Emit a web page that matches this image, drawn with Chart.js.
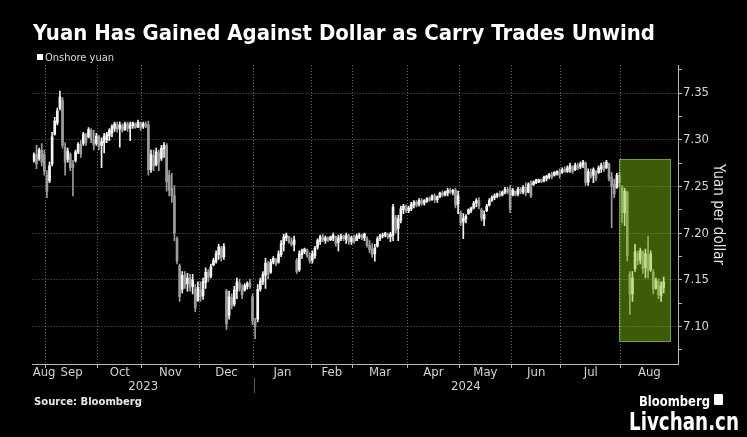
<!DOCTYPE html>
<html>
<head>
<meta charset="utf-8">
<script src="https://cdn.jsdelivr.net/npm/chart.js@4.4.1/dist/chart.umd.min.js"></script>
<style>
  html, body { margin: 0; padding: 0; background: #000; }
  #wrap { position: relative; width: 747px; height: 437px; background: #000; overflow: hidden; }
  #chart { position: absolute; left: 0; top: 0; }
  .txt { position: absolute; white-space: nowrap; color: #fff; transform-origin: 0 0; line-height: 1; }
  #title { left: 33px; top: 20px; font: bold 22px 'DejaVu Sans', sans-serif; }
  #legend { left: 37px; top: 51px; font: 11px 'DejaVu Sans Condensed', 'DejaVu Sans', sans-serif; color: #dcdcdc; }
  #legend .sw { display: inline-block; width: 6px; height: 6px; background: #fff; margin-right: 2px; vertical-align: 1px; }
  #source { left: 34px; top: 395px; font: bold 11px 'DejaVu Sans', sans-serif; color: #e8e8e8; }
  #brand { left: 639px; top: 393px; font: bold 14px 'DejaVu Sans Condensed', 'DejaVu Sans', sans-serif; }
  #logo { position: absolute; left: 714px; top: 394px; width: 9px; height: 11px; background: #fff; border-radius: 1px; }
  #watermark { left: 629px; top: 408px; font: bold 24px 'DejaVu Sans Condensed', 'DejaVu Sans', sans-serif; }
</style>
</head>
<body>
<div id="wrap">
  <canvas id="chart" width="747" height="437"></canvas>
  <div id="title" class="txt">Yuan Has Gained Against Dollar as Carry Trades Unwind</div>
  <div id="legend" class="txt"><span class="sw"></span>Onshore yuan</div>
  <div id="source" class="txt">Source: Bloomberg</div>
  <div id="brand" class="txt">Bloomberg</div>
  <div id="logo"></div>
  <div id="watermark" class="txt">Livchan.cn</div>
</div>
<script>
// Daily USD/CNY (onshore) bars, late Aug 2023 - Aug 2024, one entry per trading day
const opens = [
  7.278, 7.284, 7.280, 7.289, 7.284, // Aug
  7.262, 7.256, 7.274, 7.306, 7.318, 7.334, 7.342, 7.292, 7.279, 7.284, 7.274, 7.278, 7.287, 7.295, 7.296, 7.305, 7.303, 7.310, 7.300, 7.296, // Sep
  7.303, 7.294, 7.297, 7.300, 7.304, 7.307, 7.312, 7.316, 7.312, 7.315, 7.311, 7.317, 7.312, 7.315, 7.317, 7.314, 7.318, // Oct
  7.314, 7.317, 7.316, 7.268, 7.283, 7.273, 7.286, 7.280, 7.290, 7.294, 7.262, 7.248, 7.240, 7.194, 7.165, 7.140, 7.155, 7.146, 7.152, 7.143, 7.140, 7.128, // Nov
  7.140, 7.133, 7.147, 7.158, 7.154, 7.166, 7.170, 7.177, 7.184, 7.175, 7.138, 7.112, 7.131, 7.124, 7.138, 7.147, 7.140, 7.139, 7.143, 7.147, 7.132, // Dec
  7.106, 7.108, 7.140, 7.148, 7.155, 7.167, 7.158, 7.169, 7.172, 7.169, 7.177, 7.188, 7.195, 7.196, 7.191, 7.188, 7.171, 7.161, 7.177, 7.180, 7.182, 7.175, // Jan
  7.171, 7.176, 7.185, 7.191, 7.196, 7.192, 7.195, 7.193, 7.195, 7.196, 7.190, 7.194, 7.197, 7.193, 7.197, 7.191, // Feb
  7.194, 7.192, 7.196, 7.198, 7.195, 7.194, 7.187, 7.183, 7.178, 7.186, 7.194, 7.197, 7.198, 7.199, 7.196, 7.198, 7.217, 7.205, 7.214, 7.225, 7.228, // Mar
  7.224, 7.226, 7.230, 7.233, 7.231, 7.235, 7.232, 7.234, 7.237, 7.236, 7.240, 7.236, 7.239, 7.243, 7.241, 7.243, 7.246, 7.244, 7.246, 7.231, // Apr
  7.222, 7.212, 7.215, 7.221, 7.224, 7.227, 7.232, 7.235, 7.225, 7.215, 7.224, 7.230, 7.235, 7.238, 7.240, 7.242, 7.241, 7.244, 7.247, 7.248, // May
  7.241, 7.245, 7.242, 7.247, 7.244, 7.249, 7.244, 7.254, 7.252, 7.254, 7.255, 7.257, 7.256, 7.259, 7.260, 7.263, 7.262, 7.264, 7.266, // Jun
  7.265, 7.268, 7.266, 7.269, 7.271, 7.268, 7.272, 7.271, 7.273, 7.275, 7.255, 7.265, 7.262, 7.266, 7.265, 7.269, 7.272, 7.270, 7.274, 7.260, 7.252, 7.249, 7.262, // Jul
  7.250, 7.222, 7.244, 7.156, 7.135, 7.162, 7.178, 7.171, 7.179, 7.163, 7.176, 7.161, 7.158, 7.141, 7.148, 7.133, 7.142 // Aug
];
const highs = [
  7.286, 7.294, 7.291, 7.296, 7.289,
  7.267, 7.276, 7.308, 7.324, 7.334, 7.352, 7.345, 7.297, 7.291, 7.286, 7.278, 7.289, 7.297, 7.299, 7.308, 7.307, 7.313, 7.312, 7.310, 7.307,
  7.305, 7.302, 7.307, 7.308, 7.312, 7.316, 7.319, 7.319, 7.319, 7.317, 7.319, 7.319, 7.319, 7.319, 7.318, 7.321, 7.319,
  7.319, 7.319, 7.320, 7.289, 7.289, 7.291, 7.289, 7.294, 7.297, 7.296, 7.267, 7.264, 7.251, 7.196, 7.167, 7.159, 7.159, 7.157, 7.156, 7.156, 7.145, 7.148,
  7.148, 7.152, 7.163, 7.161, 7.167, 7.173, 7.181, 7.188, 7.186, 7.189, 7.140, 7.138, 7.135, 7.143, 7.152, 7.151, 7.145, 7.146, 7.148, 7.151, 7.135,
  7.109, 7.145, 7.152, 7.159, 7.173, 7.170, 7.172, 7.175, 7.173, 7.181, 7.192, 7.199, 7.200, 7.197, 7.195, 7.197, 7.173, 7.181, 7.183, 7.184, 7.183, 7.179,
  7.181, 7.186, 7.194, 7.198, 7.199, 7.197, 7.196, 7.197, 7.200, 7.197, 7.198, 7.199, 7.198, 7.200, 7.199, 7.197,
  7.198, 7.199, 7.200, 7.199, 7.200, 7.196, 7.192, 7.189, 7.188, 7.196, 7.199, 7.200, 7.201, 7.200, 7.201, 7.231, 7.219, 7.219, 7.229, 7.231, 7.230,
  7.229, 7.233, 7.235, 7.235, 7.237, 7.237, 7.236, 7.238, 7.239, 7.241, 7.242, 7.240, 7.244, 7.245, 7.245, 7.248, 7.248, 7.247, 7.248, 7.245,
  7.224, 7.221, 7.220, 7.226, 7.228, 7.234, 7.237, 7.238, 7.227, 7.224, 7.231, 7.237, 7.240, 7.242, 7.243, 7.245, 7.245, 7.249, 7.249, 7.251,
  7.248, 7.245, 7.249, 7.249, 7.251, 7.254, 7.254, 7.256, 7.256, 7.258, 7.258, 7.258, 7.261, 7.262, 7.264, 7.265, 7.266, 7.267, 7.269,
  7.270, 7.271, 7.272, 7.275, 7.272, 7.275, 7.275, 7.276, 7.278, 7.276, 7.269, 7.269, 7.270, 7.267, 7.272, 7.275, 7.276, 7.278, 7.275, 7.265, 7.258, 7.264, 7.265,
  7.251, 7.248, 7.245, 7.159, 7.159, 7.188, 7.181, 7.184, 7.181, 7.183, 7.197, 7.181, 7.161, 7.152, 7.151, 7.148, 7.153
];
const lows = [
  7.276, 7.269, 7.278, 7.272, 7.262,
  7.238, 7.254, 7.272, 7.305, 7.316, 7.332, 7.291, 7.262, 7.276, 7.267, 7.240, 7.276, 7.285, 7.281, 7.294, 7.294, 7.302, 7.297, 7.289, 7.294,
  7.289, 7.270, 7.286, 7.297, 7.299, 7.303, 7.309, 7.308, 7.292, 7.308, 7.310, 7.309, 7.299, 7.312, 7.312, 7.313, 7.310,
  7.312, 7.313, 7.262, 7.265, 7.267, 7.272, 7.267, 7.278, 7.281, 7.245, 7.240, 7.233, 7.192, 7.167, 7.127, 7.136, 7.141, 7.138, 7.138, 7.135, 7.116, 7.127,
  7.127, 7.129, 7.141, 7.148, 7.152, 7.165, 7.168, 7.172, 7.170, 7.172, 7.097, 7.108, 7.119, 7.122, 7.130, 7.138, 7.130, 7.138, 7.140, 7.141, 7.102,
  7.087, 7.105, 7.138, 7.145, 7.141, 7.151, 7.157, 7.167, 7.165, 7.168, 7.175, 7.181, 7.192, 7.189, 7.186, 7.181, 7.157, 7.159, 7.173, 7.178, 7.174, 7.168,
  7.168, 7.173, 7.183, 7.188, 7.191, 7.189, 7.191, 7.192, 7.192, 7.186, 7.181, 7.192, 7.192, 7.189, 7.188, 7.188,
  7.189, 7.192, 7.194, 7.193, 7.192, 7.185, 7.179, 7.174, 7.170, 7.185, 7.192, 7.195, 7.196, 7.194, 7.191, 7.192, 7.200, 7.192, 7.211, 7.221, 7.222,
  7.222, 7.224, 7.227, 7.228, 7.229, 7.230, 7.230, 7.233, 7.234, 7.235, 7.233, 7.233, 7.238, 7.239, 7.240, 7.240, 7.242, 7.241, 7.227, 7.221,
  7.208, 7.194, 7.211, 7.220, 7.222, 7.226, 7.228, 7.226, 7.213, 7.208, 7.223, 7.229, 7.234, 7.236, 7.238, 7.239, 7.240, 7.242, 7.242, 7.222,
  7.240, 7.240, 7.240, 7.242, 7.242, 7.240, 7.243, 7.238, 7.251, 7.253, 7.254, 7.254, 7.255, 7.256, 7.258, 7.258, 7.261, 7.262, 7.259,
  7.264, 7.265, 7.265, 7.265, 7.264, 7.267, 7.268, 7.269, 7.270, 7.251, 7.251, 7.259, 7.254, 7.256, 7.264, 7.265, 7.266, 7.269, 7.256, 7.206, 7.238, 7.248, 7.250,
  7.211, 7.208, 7.170, 7.113, 7.127, 7.159, 7.166, 7.167, 7.157, 7.152, 7.152, 7.159, 7.135, 7.140, 7.130, 7.127, 7.136
];
const closes = [
  7.284, 7.274, 7.289, 7.276, 7.266,
  7.245, 7.272, 7.303, 7.320, 7.331, 7.346, 7.294, 7.276, 7.288, 7.270, 7.270, 7.287, 7.295, 7.285, 7.306, 7.297, 7.311, 7.300, 7.295, 7.304,
  7.293, 7.298, 7.304, 7.306, 7.310, 7.314, 7.317, 7.311, 7.316, 7.310, 7.317, 7.312, 7.316, 7.318, 7.313, 7.319, 7.313,
  7.317, 7.315, 7.268, 7.284, 7.272, 7.287, 7.276, 7.291, 7.294, 7.255, 7.246, 7.240, 7.200, 7.170, 7.132, 7.155, 7.145, 7.152, 7.142, 7.150, 7.120, 7.142,
  7.132, 7.148, 7.158, 7.152, 7.164, 7.171, 7.178, 7.185, 7.174, 7.186, 7.103, 7.132, 7.122, 7.139, 7.148, 7.141, 7.134, 7.144, 7.146, 7.143, 7.106,
  7.100, 7.140, 7.149, 7.156, 7.168, 7.156, 7.169, 7.173, 7.167, 7.178, 7.189, 7.196, 7.198, 7.191, 7.188, 7.193, 7.159, 7.178, 7.181, 7.183, 7.176, 7.170,
  7.178, 7.184, 7.192, 7.196, 7.193, 7.195, 7.192, 7.196, 7.198, 7.189, 7.195, 7.197, 7.194, 7.198, 7.191, 7.195,
  7.191, 7.197, 7.198, 7.195, 7.199, 7.187, 7.182, 7.177, 7.184, 7.194, 7.197, 7.198, 7.200, 7.196, 7.199, 7.228, 7.203, 7.215, 7.226, 7.229, 7.224,
  7.227, 7.231, 7.233, 7.230, 7.235, 7.232, 7.235, 7.237, 7.235, 7.240, 7.236, 7.239, 7.243, 7.241, 7.244, 7.246, 7.244, 7.246, 7.230, 7.240,
  7.211, 7.216, 7.218, 7.225, 7.227, 7.232, 7.235, 7.229, 7.216, 7.220, 7.229, 7.235, 7.238, 7.240, 7.242, 7.240, 7.244, 7.247, 7.244, 7.226,
  7.246, 7.241, 7.247, 7.244, 7.249, 7.243, 7.252, 7.240, 7.255, 7.257, 7.257, 7.255, 7.260, 7.261, 7.263, 7.260, 7.265, 7.266, 7.262,
  7.268, 7.266, 7.270, 7.272, 7.266, 7.273, 7.270, 7.274, 7.276, 7.254, 7.266, 7.261, 7.268, 7.259, 7.270, 7.273, 7.268, 7.276, 7.258, 7.250, 7.242, 7.262, 7.254,
  7.222, 7.245, 7.176, 7.135, 7.152, 7.180, 7.170, 7.181, 7.162, 7.178, 7.160, 7.178, 7.140, 7.149, 7.134, 7.143, 7.148
];

// x axis: trading-day slots per month (axis runs to the end of Aug 2024)
const monthLabels = ['Aug', 'Sep', 'Oct', 'Nov', 'Dec', 'Jan', 'Feb', 'Mar', 'Apr', 'May', 'Jun', 'Jul', 'Aug'];
const monthDays = [5, 20, 17, 22, 21, 22, 16, 21, 20, 20, 19, 23, 22];
const yearLabels = ['2023', '2024'];
const yearMonths = [5, 8];

// y axis
const yMin = 7.06, yMax = 7.38;
const yTicks = [7.075, 7.10, 7.125, 7.15, 7.175, 7.20, 7.225, 7.25, 7.275, 7.30, 7.325, 7.35, 7.375];

// highlighted window (late Jul - Aug 2024)
const boxFrom = 224.9, boxTo = 245.0, boxLow = 7.084, boxHigh = 7.279;

const FONT = "'DejaVu Sans Condensed', 'DejaVu Sans', sans-serif";
const GRID = 'rgba(255,255,255,0.38)';
const AXIS = '#b8b8b8';

// month boundaries / centres in slot units
const nSlots = monthDays.reduce((a, b) => a + b, 0);
const monthBounds = [];
const monthCenters = [];
let acc = -0.5;
monthDays.forEach((d, i) => {
    monthCenters.push(acc + d / 2);
    acc += d;
    if (i < monthDays.length - 1) monthBounds.push(acc);
});
monthCenters[0] = 3.9; // first label pushed right so it stays inside the axis

const yearCenters = [];
const yearBounds = [];
let m = 0;
yearMonths.forEach(n => {
    const start = m === 0 ? -0.5 : monthBounds[m - 1];
    m += n;
    const end = m >= monthDays.length ? nSlots - 0.5 : monthBounds[m - 1];
    yearCenters.push((start + end) / 2);
    if (m < monthDays.length) yearBounds.push(end);
});

const isMajor = v => Math.abs(v * 20 - Math.round(v * 20)) < 1e-6;
const barColor = i => closes[i] >= opens[i] ? '#f4f4f4' : '#9c9c9c';

const bodies = opens.map((o, i) => ({ x: i, y: [o, closes[i]] }));
const wicks = highs.map((h, i) => ({ x: i, y: [lows[i], h] }));

const overlay = {
    id: 'overlay',
    afterDatasetsDraw(chart) {
        const { ctx, scales: { x, y } } = chart;
        const x0 = Math.round(x.getPixelForValue(boxFrom));
        const x1 = Math.round(x.getPixelForValue(boxTo));
        const y0 = Math.round(y.getPixelForValue(boxHigh));
        const y1 = Math.round(y.getPixelForValue(boxLow));
        ctx.save();
        ctx.fillStyle = 'rgba(133,200,17,0.46)';
        ctx.fillRect(x0, y0, x1 - x0, y1 - y0);
        ctx.strokeStyle = 'rgba(160,210,90,0.55)';
        ctx.lineWidth = 1;
        ctx.strokeRect(x0 + 0.5, y0 + 0.5, x1 - x0 - 1, y1 - y0 - 1);
        ctx.restore();
    },
    afterDraw(chart) {
        // thin divider between the year labels
        const { ctx } = chart;
        const s = chart.scales.x3;
        ctx.save();
        ctx.strokeStyle = '#5a5a5a';
        ctx.lineWidth = 1;
        yearBounds.forEach(v => {
            const px = Math.round(s.getPixelForValue(v)) + 0.5;
            ctx.beginPath();
            ctx.moveTo(px, s.top - 1);
            ctx.lineTo(px, s.bottom - 1);
            ctx.stroke();
        });
        ctx.restore();
    }
};

Chart.defaults.font.family = FONT;
Chart.defaults.color = '#d6d6d6';

new Chart(document.getElementById('chart'), {
    type: 'bar',
    data: {
        datasets: [
            {
                label: 'body',
                data: bodies,
                grouped: false,
                barThickness: 2,
                minBarLength: 1,
                backgroundColor: c => barColor(c.dataIndex),
                borderWidth: 0
            },
            {
                label: 'range',
                data: wicks,
                grouped: false,
                barThickness: 1,
                minBarLength: 1,
                backgroundColor: c => barColor(c.dataIndex),
                borderWidth: 0
            }
        ]
    },
    options: {
        responsive: false,
        animation: false,
        events: [],
        layout: { padding: { left: 32.6, top: 65, right: 0, bottom: 43 } },
        plugins: { legend: { display: false }, tooltip: { enabled: false } },
        scales: {
            x: {
                type: 'linear', position: 'bottom', weight: 0,
                min: -0.5, max: nSlots - 0.5, offset: false,
                afterBuildTicks: s => { s.ticks = monthBounds.map(v => ({ value: v })); },
                afterFit: s => { s.height = 0; },
                grid: { offset: false, color: GRID, tickColor: AXIS, tickLength: 4 },
                border: { display: true, color: AXIS, dash: [1, 2] },
                ticks: { display: false }
            },
            x2: {
                type: 'linear', position: 'bottom', weight: 1,
                min: -0.5, max: nSlots - 0.5, offset: false,
                afterBuildTicks: s => { s.ticks = monthCenters.map(v => ({ value: v })); },
                afterFit: s => { s.height = 15; },
                grid: { display: false, drawTicks: false },
                border: { display: false },
                ticks: {
                    autoSkip: false, maxRotation: 0, padding: 1,
                    font: { size: 13 }, color: '#d2d2d2',
                    callback: (v, i) => monthLabels[i]
                }
            },
            x3: {
                type: 'linear', position: 'bottom', weight: 2,
                min: -0.5, max: nSlots - 0.5, offset: false,
                afterBuildTicks: s => { s.ticks = yearCenters.map(v => ({ value: v })); },
                afterFit: s => { s.height = 15; },
                grid: { display: false, drawTicks: false },
                border: { display: false },
                ticks: {
                    autoSkip: false, maxRotation: 0, padding: 0,
                    font: { size: 13 }, color: '#d2d2d2',
                    callback: (v, i) => yearLabels[i]
                }
            },
            y: {
                position: 'right',
                min: yMin, max: yMax,
                afterBuildTicks: s => { s.ticks = yTicks.map(v => ({ value: v })); },
                afterFit: s => { s.width = 69; },
                grid: {
                    color: c => (c.tick && isMajor(c.tick.value)) ? GRID : 'rgba(0,0,0,0)',
                    tickColor: AXIS, tickLength: 4
                },
                border: { display: true, color: AXIS, dash: [1, 2] },
                ticks: {
                    padding: 1, font: { size: 13 }, color: '#d6d6d6',
                    callback: v => isMajor(v) ? v.toFixed(2) : ''
                },
                title: {
                    display: true, text: 'Yuan per dollar', color: '#e2e2e2',
                    font: { size: 15 }, padding: { top: 20, bottom: 0 }
                }
            }
        }
    },
    plugins: [overlay]
});

// squeeze headline/footer text to the widths used in the original layout
function fitWidth(id, w) {
    const el = document.getElementById(id);
    const actual = el.getBoundingClientRect().width;
    if (actual > 0) el.style.transform = 'scaleX(' + (w / actual) + ')';
}
fitWidth('title', 622);
fitWidth('source', 108);
fitWidth('brand', 71);
fitWidth('watermark', 110);
</script>
</body>
</html>
